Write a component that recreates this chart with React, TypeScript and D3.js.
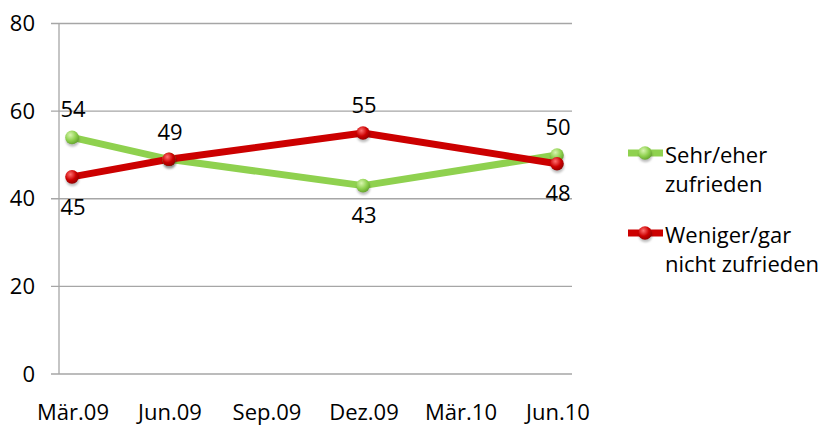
import React from "react";
import * as d3 from "d3";

const categories = ["Mär.09", "Jun.09", "Sep.09", "Dez.09", "Mär.10", "Jun.10"];
const seriesNames = [["Sehr/eher", "zufrieden"], ["Weniger/gar", "nicht zufrieden"]];
const greenValues: (number | null)[] = [54, 49, null, 43, null, 50];
const redValues: (number | null)[] = [45, 49, null, 55, null, 48];
const yTicks = [0, 20, 40, 60, 80];

const W = 820, H = 426;
const FONT = "'Open Sans', 'Noto Sans', sans-serif";
const FS = 22;

export default function App() {
  const x = d3.scalePoint<string>().domain(categories).range([72, 557]);
  const y = d3.scaleLinear().domain([0, 80]).range([374, 23.5]);
  const plotLeft = 59, plotRight = 572;

  const series = [
    { name: seriesNames[0], values: greenValues, color: "#8fd14f", id: "g", light: "#d8f5b0", dark: "#5f9e2a" },
    { name: seriesNames[1], values: redValues, color: "#cc0000", id: "r", light: "#ff7070", dark: "#8a0000" },
  ];

  const line = d3
    .line<{ c: string; v: number }>()
    .x((d) => x(d.c)!)
    .y((d) => y(d.v));

  const pts = (vals: (number | null)[]) =>
    categories
      .map((c, i) => ({ c, v: vals[i] as number, i }))
      .filter((d) => d.v !== null && d.v !== undefined);

  const labels: { x: number; y: number; t: string }[] = [];
  categories.forEach((c, i) => {
    const g = greenValues[i], r = redValues[i];
    if (g == null || r == null) return;
    if (g === r) {
      labels.push({ x: x(c)!, y: y(g) - 27, t: String(g) });
    } else {
      const hi = Math.max(g, r), lo = Math.min(g, r);
      labels.push({ x: x(c)!, y: y(hi) - 28, t: String(hi) });
      labels.push({ x: x(c)!, y: y(lo) + 30, t: String(lo) });
    }
  });

  const marker = (cx: number, cy: number, id: string, key: string) => (
    <g key={key}>
      <circle cx={cx + 0.5} cy={cy + 2.5} r={6.8} fill="rgba(0,0,0,0.25)" filter="url(#blur)" />
      <circle cx={cx} cy={cy} r={6.8} fill={`url(#grad-${id})`} />
    </g>
  );

  const legendY = [153, 233];

  return (
    <svg width={W} height={H} style={{ position: "absolute", left: 0, top: 0, background: "#fff" }} fontFamily={FONT}>
      <defs>
        {series.map((s) => (
          <radialGradient key={s.id} id={`grad-${s.id}`} cx="0.38" cy="0.32" r="0.75">
            <stop offset="0%" stopColor={s.light} />
            <stop offset="55%" stopColor={s.color} />
            <stop offset="100%" stopColor={s.dark} />
          </radialGradient>
        ))}
        <filter id="blur" x="-50%" y="-50%" width="200%" height="200%">
          <feGaussianBlur stdDeviation="1.2" />
        </filter>
      </defs>

      {yTicks.map((t) => (
        <g key={t}>
          <line x1={51} x2={plotRight} y1={y(t)} y2={y(t)} stroke="#a6a6a6" strokeWidth={1.3} />
          <text x={35} y={y(t)} dy="0.35em" textAnchor="end" fontSize={FS} fill="#000">
            {t}
          </text>
        </g>
      ))}
      <line x1={plotLeft} x2={plotLeft} y1={y(80)} y2={y(0)} stroke="#a6a6a6" strokeWidth={1.3} />

      {categories.map((c) => (
        <text key={c} x={x(c)! + 1} y={420} textAnchor="middle" fontSize={FS} fill="#000">
          {c}
        </text>
      ))}

      {series.map((s) => (
        <path key={s.id} d={line(pts(s.values))!} fill="none" stroke={s.color} strokeWidth={7} strokeLinejoin="round" />
      ))}
      {series.map((s) => pts(s.values).map((d) => marker(x(d.c)!, y(d.v), s.id, s.id + d.i)))}

      {labels.map((l, i) => (
        <text key={i} x={l.x + 1} y={l.y} dy="0.35em" textAnchor="middle" fontSize={FS} fill="#000">
          {l.t}
        </text>
      ))}

      {series.map((s, i) => (
        <g key={s.id}>
          <line x1={628} x2={663} y1={legendY[i]} y2={legendY[i]} stroke={s.color} strokeWidth={7} />
          {marker(645, legendY[i], s.id, "leg" + s.id)}
          {s.name.map((n, j) => (
            <text key={j} x={665} y={legendY[i] + 10 + j * 29} fontSize={FS} fill="#000">
              {n}
            </text>
          ))}
        </g>
      ))}
    </svg>
  );
}
